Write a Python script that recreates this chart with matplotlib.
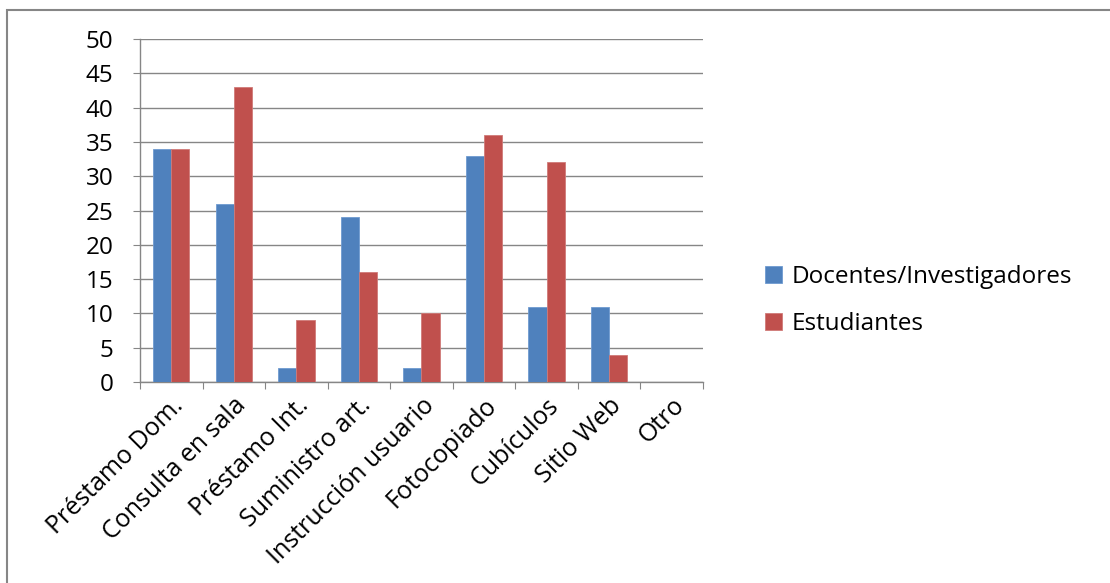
import matplotlib
matplotlib.use("Agg")
import matplotlib.pyplot as plt
import numpy as np
from matplotlib.patches import Rectangle

categories = ["Préstamo Dom.", "Consulta en sala", "Préstamo Int.", "Suministro art.",
              "Instrucción usuario", "Fotocopiado", "Cubículos", "Sitio Web", "Otro"]
docentes = [34, 26, 2, 24, 2, 33, 11, 11, 0]
estudiantes = [34, 43, 9, 16, 10, 36, 32, 4, 0]
series_names = ["Docentes/Investigadores", "Estudiantes"]
yticks = [0, 5, 10, 15, 20, 25, 30, 35, 40, 45, 50]

plt.rcParams['font.family'] = ['Open Sans', 'DejaVu Sans']

fig = plt.figure(figsize=(11.1, 5.83), dpi=100)
ax = fig.add_axes([140/1110, 1-382/583, (703-140)/1110, (382-39)/583])

x = np.arange(len(categories))
w = 0.29
ax.bar(x - w/2, docentes, w, color='#4F81BD', edgecolor='#6F9AD0', linewidth=0.6,
       label=series_names[0], zorder=3)
ax.bar(x + w/2, estudiantes, w, color='#C0504D', edgecolor='#D07A78', linewidth=0.6,
       label=series_names[1], zorder=3)

ax.set_xlim(-0.5, len(categories) - 0.5)
ax.set_ylim(0, 50)
ax.set_yticks(yticks)
ax.tick_params(axis='y', labelsize=17.5, length=5, color='#868686', pad=14)
ax.grid(axis='y', color='#868686', linewidth=1, zorder=0)

ax.set_xticks(np.arange(-0.5, len(categories), 1.0))
ax.set_xticklabels([])
ax.tick_params(axis='x', which='major', length=5, color='#868686', direction='out')
ax.set_xticks(x, minor=True)
ax.set_xticklabels(categories, minor=True, rotation=45, ha='right',
                   rotation_mode='anchor', fontsize=18)
ax.tick_params(axis='x', which='minor', length=0, pad=8)

for s in ['top', 'right']:
    ax.spines[s].set_visible(False)
for s in ['left', 'bottom']:
    ax.spines[s].set_color('#868686')
    ax.spines[s].set_linewidth(1)

leg = fig.legend(loc='upper left', bbox_to_anchor=(743/1110, 1-243/583),
                 frameon=False, fontsize=17.5, handlelength=0.7, handleheight=0.7,
                 handletextpad=0.4, labelspacing=0.95)

fig.patches.append(Rectangle((7/1110, -10/583), 1120/1110, 583/583,
                             transform=fig.transFigure, fill=False,
                             edgecolor='#868686', linewidth=1.5))

fig.savefig("out.png", dpi=100)
